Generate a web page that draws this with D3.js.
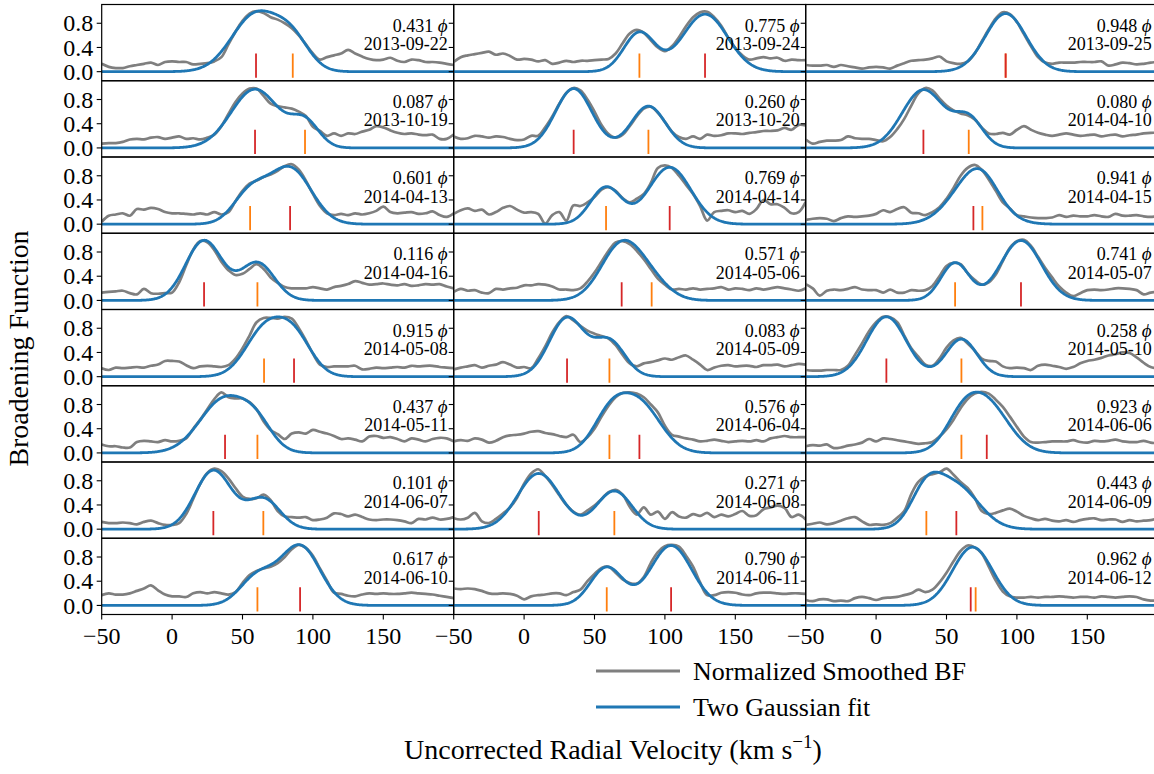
<!DOCTYPE html>
<html>
<head>
<meta charset="utf-8">
<script src="https://cdn.jsdelivr.net/npm/d3@7"></script>
<style>
  body { margin: 0; background: #fff; }
  svg text { font-family: "Liberation Serif", "Times New Roman", serif; fill: #000; }
</style>
</head>
<body>
<svg id="chart" width="1154" height="774"></svg>
<script>
// Velocity grid (km/s) on which the smoothed broadening functions are sampled
const velocity = [-50,-45,-40,-35,-30,-25,-20,-15,-10,-5,0,5,10,15,20,25,30,35,40,45,50,55,60,65,70,75,80,85,90,95,100,105,110,115,120,125,130,135,140,145,150,155,160,165,170,175,180,185,190,195,200];

// Orbital phase and observation date of each spectrum (row-major panel order)
const phases = ["0.431","0.775","0.948","0.087","0.260","0.080","0.601","0.769","0.941","0.116","0.571","0.741","0.915","0.083","0.258","0.437","0.576","0.923","0.101","0.271","0.443","0.617","0.790","0.962"];
const obsDates = ["2013-09-22","2013-09-24","2013-09-25","2013-10-19","2013-10-20","2014-04-10","2014-04-13","2014-04-14","2014-04-15","2014-04-16","2014-05-06","2014-05-07","2014-05-08","2014-05-09","2014-05-10","2014-05-11","2014-06-04","2014-06-06","2014-06-07","2014-06-08","2014-06-09","2014-06-10","2014-06-11","2014-06-12"];

// Normalized smoothed broadening functions, one row per spectrum
const bfSmoothed = [
  [0.13,0.08,0.06,0.06,0.09,0.11,0.13,0.15,0.11,0.16,0.17,0.16,0.16,0.12,0.13,0.14,0.17,0.24,0.45,0.66,0.84,0.96,1.0,0.97,0.9,0.86,0.8,0.72,0.6,0.45,0.3,0.2,0.24,0.27,0.3,0.36,0.3,0.25,0.21,0.19,0.2,0.23,0.18,0.16,0.2,0.19,0.16,0.16,0.15,0.13,0.11],
  [0.16,0.24,0.27,0.29,0.31,0.33,0.28,0.3,0.26,0.2,0.21,0.2,0.17,0.19,0.13,0.15,0.18,0.16,0.18,0.18,0.19,0.2,0.21,0.3,0.47,0.63,0.69,0.64,0.52,0.4,0.34,0.42,0.57,0.75,0.9,0.98,0.99,0.9,0.76,0.56,0.39,0.27,0.2,0.22,0.24,0.22,0.23,0.18,0.2,0.19,0.19],
  [0.11,0.1,0.1,0.11,0.08,0.11,0.09,0.07,0.05,0.07,0.08,0.07,0.05,0.1,0.14,0.18,0.19,0.2,0.22,0.25,0.17,0.14,0.13,0.17,0.3,0.5,0.7,0.88,0.98,0.95,0.82,0.62,0.42,0.24,0.15,0.13,0.15,0.15,0.15,0.16,0.16,0.16,0.17,0.1,0.12,0.15,0.14,0.12,0.13,0.15,0.16],
  [0.07,0.08,0.08,0.1,0.14,0.15,0.14,0.17,0.18,0.15,0.17,0.19,0.15,0.16,0.14,0.17,0.22,0.36,0.56,0.76,0.9,0.98,0.98,0.86,0.73,0.69,0.67,0.65,0.6,0.53,0.35,0.28,0.2,0.24,0.2,0.24,0.23,0.27,0.3,0.36,0.34,0.29,0.25,0.23,0.24,0.22,0.21,0.22,0.15,0.15,0.22],
  [0.19,0.15,0.16,0.2,0.19,0.17,0.19,0.18,0.15,0.13,0.14,0.2,0.2,0.34,0.52,0.73,0.91,0.99,0.95,0.8,0.6,0.38,0.23,0.17,0.22,0.36,0.52,0.65,0.68,0.58,0.43,0.27,0.18,0.15,0.19,0.15,0.22,0.2,0.21,0.24,0.24,0.23,0.25,0.26,0.28,0.28,0.29,0.33,0.3,0.38,0.37],
  [0.14,0.07,0.1,0.12,0.12,0.13,0.19,0.16,0.15,0.15,0.13,0.11,0.18,0.31,0.48,0.7,0.9,0.99,0.95,0.82,0.7,0.62,0.57,0.54,0.47,0.34,0.24,0.23,0.25,0.22,0.3,0.36,0.3,0.25,0.22,0.2,0.22,0.24,0.22,0.2,0.21,0.22,0.19,0.21,0.22,0.19,0.21,0.22,0.24,0.25,0.25],
  [0.04,0.14,0.16,0.18,0.14,0.25,0.24,0.27,0.25,0.2,0.18,0.18,0.17,0.16,0.18,0.16,0.2,0.16,0.2,0.38,0.55,0.67,0.72,0.78,0.82,0.88,0.96,0.99,0.9,0.72,0.5,0.3,0.18,0.15,0.17,0.15,0.18,0.16,0.18,0.22,0.29,0.2,0.18,0.19,0.2,0.17,0.18,0.21,0.15,0.12,0.18],
  [0.17,0.23,0.26,0.22,0.24,0.16,0.2,0.27,0.3,0.24,0.19,0.2,0.17,0.01,0.15,0.2,0.06,0.31,0.3,0.36,0.45,0.57,0.61,0.55,0.43,0.36,0.42,0.5,0.68,0.93,0.97,0.93,0.8,0.65,0.5,0.3,0.06,0.2,0.22,0.23,0.2,0.22,0.17,0.25,0.4,0.33,0.33,0.27,0.18,0.2,0.37],
  [0.07,0.09,0.1,0.09,0.05,0.1,0.13,0.12,0.13,0.14,0.17,0.23,0.2,0.25,0.28,0.19,0.18,0.15,0.2,0.28,0.42,0.6,0.8,0.93,0.98,0.9,0.74,0.55,0.36,0.26,0.15,0.13,0.11,0.1,0.1,0.11,0.15,0.12,0.14,0.13,0.13,0.15,0.13,0.12,0.17,0.14,0.14,0.15,0.13,0.12,0.13],
  [0.13,0.14,0.15,0.16,0.12,0.1,0.19,0.12,0.11,0.12,0.13,0.3,0.58,0.84,0.98,0.96,0.83,0.64,0.5,0.42,0.44,0.52,0.6,0.52,0.38,0.29,0.22,0.2,0.2,0.2,0.22,0.2,0.18,0.22,0.24,0.27,0.32,0.29,0.26,0.27,0.28,0.26,0.25,0.27,0.24,0.25,0.27,0.26,0.27,0.23,0.2],
  [0.14,0.19,0.16,0.17,0.13,0.12,0.19,0.18,0.2,0.21,0.25,0.25,0.27,0.26,0.23,0.18,0.18,0.17,0.2,0.31,0.46,0.64,0.82,0.96,0.98,0.93,0.82,0.68,0.52,0.36,0.26,0.18,0.19,0.18,0.2,0.18,0.19,0.2,0.22,0.18,0.2,0.19,0.17,0.2,0.18,0.2,0.22,0.2,0.18,0.16,0.2],
  [0.27,0.2,0.08,0.16,0.18,0.17,0.19,0.22,0.18,0.17,0.17,0.13,0.18,0.13,0.13,0.17,0.16,0.17,0.24,0.4,0.57,0.62,0.6,0.45,0.34,0.26,0.3,0.43,0.65,0.87,0.98,1.0,0.9,0.72,0.54,0.38,0.23,0.13,0.07,0.12,0.17,0.18,0.17,0.18,0.2,0.2,0.19,0.17,0.1,0.13,0.14],
  [0.14,0.11,0.15,0.14,0.15,0.16,0.15,0.18,0.2,0.26,0.26,0.25,0.19,0.14,0.17,0.18,0.17,0.16,0.19,0.3,0.47,0.68,0.9,0.97,0.97,0.96,0.99,0.96,0.8,0.6,0.38,0.2,0.16,0.17,0.17,0.17,0.18,0.12,0.13,0.15,0.14,0.15,0.16,0.15,0.18,0.17,0.18,0.18,0.16,0.15,0.14],
  [0.12,0.15,0.17,0.19,0.15,0.18,0.2,0.24,0.2,0.15,0.16,0.14,0.3,0.5,0.73,0.9,1.0,0.93,0.84,0.76,0.71,0.67,0.63,0.52,0.36,0.22,0.17,0.22,0.24,0.27,0.3,0.28,0.32,0.35,0.28,0.2,0.11,0.15,0.18,0.19,0.17,0.18,0.18,0.16,0.19,0.19,0.2,0.17,0.19,0.21,0.2],
  [0.11,0.1,0.1,0.11,0.11,0.11,0.18,0.36,0.55,0.75,0.9,0.99,0.98,0.9,0.68,0.47,0.33,0.2,0.18,0.3,0.48,0.6,0.64,0.55,0.43,0.3,0.26,0.25,0.17,0.14,0.15,0.14,0.11,0.18,0.2,0.18,0.16,0.13,0.16,0.22,0.26,0.28,0.31,0.35,0.37,0.4,0.39,0.32,0.23,0.16,0.14],
  [0.14,0.11,0.11,0.09,0.09,0.18,0.2,0.19,0.18,0.21,0.19,0.2,0.24,0.4,0.55,0.72,0.89,1.0,0.92,0.9,0.9,0.84,0.72,0.52,0.38,0.31,0.23,0.32,0.34,0.32,0.38,0.35,0.32,0.28,0.23,0.24,0.22,0.19,0.27,0.28,0.25,0.26,0.23,0.19,0.24,0.22,0.19,0.23,0.25,0.24,0.19],
  [0.19,0.21,0.2,0.24,0.22,0.17,0.2,0.26,0.29,0.3,0.32,0.35,0.36,0.33,0.31,0.28,0.26,0.3,0.18,0.26,0.4,0.6,0.78,0.92,0.99,1.0,0.98,0.92,0.8,0.67,0.45,0.3,0.27,0.24,0.22,0.19,0.2,0.22,0.2,0.18,0.19,0.2,0.19,0.21,0.19,0.24,0.26,0.28,0.26,0.26,0.26],
  [0.11,0.13,0.12,0.14,0.08,0.09,0.12,0.14,0.17,0.23,0.19,0.24,0.23,0.21,0.19,0.17,0.15,0.16,0.18,0.27,0.39,0.55,0.74,0.89,0.98,1.01,0.98,0.88,0.76,0.6,0.43,0.27,0.18,0.17,0.18,0.19,0.19,0.19,0.21,0.18,0.17,0.2,0.19,0.2,0.22,0.19,0.18,0.18,0.2,0.17,0.16],
  [0.12,0.1,0.1,0.11,0.1,0.08,0.12,0.14,0.1,0.07,0.07,0.1,0.25,0.5,0.75,0.93,1.0,0.96,0.84,0.68,0.54,0.5,0.51,0.57,0.48,0.3,0.21,0.2,0.19,0.2,0.15,0.16,0.19,0.26,0.25,0.21,0.24,0.2,0.16,0.15,0.16,0.16,0.15,0.13,0.1,0.17,0.16,0.19,0.16,0.17,0.2],
  [0.18,0.16,0.19,0.27,0.13,0.1,0.17,0.26,0.36,0.52,0.75,0.92,0.99,0.88,0.73,0.56,0.4,0.29,0.24,0.31,0.39,0.5,0.61,0.65,0.57,0.37,0.24,0.36,0.24,0.29,0.17,0.28,0.21,0.19,0.25,0.22,0.27,0.2,0.24,0.21,0.25,0.3,0.22,0.23,0.33,0.36,0.39,0.35,0.2,0.24,0.16],
  [0.07,0.09,0.11,0.08,0.1,0.14,0.18,0.2,0.13,0.07,0.08,0.07,0.1,0.19,0.3,0.58,0.78,0.87,0.91,0.94,1.0,0.9,0.78,0.68,0.52,0.3,0.25,0.27,0.31,0.34,0.29,0.22,0.18,0.15,0.17,0.14,0.13,0.15,0.12,0.15,0.17,0.18,0.15,0.16,0.16,0.12,0.15,0.13,0.14,0.15,0.18],
  [0.17,0.2,0.18,0.18,0.2,0.24,0.28,0.33,0.25,0.18,0.15,0.15,0.14,0.2,0.22,0.2,0.22,0.2,0.18,0.22,0.37,0.5,0.57,0.61,0.64,0.7,0.8,0.93,1.0,0.95,0.82,0.61,0.41,0.21,0.19,0.16,0.15,0.18,0.2,0.19,0.2,0.19,0.19,0.2,0.21,0.2,0.19,0.18,0.16,0.14,0.12],
  [0.28,0.27,0.28,0.27,0.24,0.2,0.19,0.2,0.19,0.16,0.1,0.15,0.17,0.18,0.2,0.2,0.17,0.22,0.26,0.4,0.52,0.62,0.64,0.54,0.43,0.37,0.36,0.47,0.7,0.88,0.98,1.0,0.97,0.82,0.64,0.38,0.17,0.17,0.21,0.22,0.21,0.18,0.17,0.2,0.21,0.21,0.2,0.19,0.2,0.2,0.19],
  [0.09,0.07,0.1,0.1,0.07,0.08,0.07,0.12,0.14,0.12,0.09,0.12,0.13,0.14,0.17,0.2,0.26,0.22,0.26,0.38,0.54,0.73,0.9,0.99,0.96,0.86,0.64,0.41,0.23,0.15,0.13,0.13,0.14,0.13,0.14,0.14,0.15,0.14,0.13,0.14,0.14,0.13,0.15,0.14,0.13,0.14,0.15,0.14,0.1,0.08,0.08]
];

// Two-Gaussian fit parameters: amplitude, centre (km/s) and sigma (km/s)
const primaryAmp      = [0.95,0.95,0.6,0.97,0.98,0.96,0.92,0.94,0.72,0.99,0.92,0.99,0.64,0.97,0.99,0.9,0.8,0.8,0.97,0.92,0.7,0.98,0.99,0.6];
const primaryCenter   = [59.6,128.5,92.0,58.9,35.2,33.6,83.8,103.4,69.1,22.7,69.3,102.9,86.6,30.5,7.3,37.6,81.9,78.6,29.3,10.4,57.0,90.9,104.4,67.2];
const primaryWidth    = [17,16,14.5,17,13,15,15,15,16.5,13,14.5,14.5,12.5,12.5,14,17.5,15,15.5,13,15,16,14,14.5,14];
const secondaryAmp    = [0.45,0.645,0.36,0.41,0.69,0.47,0.5,0.61,0.22,0.62,0.25,0.62,0.74,0.58,0.62,0.32,0.55,0.43,0.5,0.63,0.58,0.47,0.63,0.37];
const secondaryCenter = [85.7,81.9,92.0,94.4,88.3,65.8,55.4,58.2,75.5,60.6,90.6,56.1,65.3,60.6,60.6,60.6,60.6,60.6,64.8,64.1,35.7,60.6,58.7,70.7];
const secondaryWidth  = [12,11,14.5,10,12,10,12,11,11,12,13,10,13.5,11,11,11,12,12,11.7,12.5,11,12.3,11.5,14];

const xTicks = [-50, 0, 50, 100, 150];
const yTicks = [0.0, 0.4, 0.8];

// Layout
const nRows = 8, nCols = 3;
const gridLeft = 101.7, gridTop = 4.5, panelW = 352, panelH = 76.25;
const colors = { bf: "#7f7f7f", fit: "#1f77b4", primary: "#d62728", secondary: "#ff7f0e" };

const svg = d3.select("#chart");
const x = d3.scaleLinear().domain([-50, 200]).range([0, panelW]);
const y = d3.scaleLinear().domain([-0.15, 1.11]).range([panelH, 0]);

const gauss = (v, a, mu, s) => a * Math.exp(-((v - mu) ** 2) / (2 * s * s));
const fitGrid = d3.range(-50, 200.25, 0.5);

const bfLine = d3.line().curve(d3.curveCatmullRom.alpha(0.5)).x(d => x(d[0])).y(d => y(d[1]));
const fitLine = d3.line().x(d => x(d[0])).y(d => y(d[1]));

phases.forEach((phase, i) => {
  const row = Math.floor(i / nCols), col = i % nCols;
  const g = svg.append("g")
    .attr("transform", `translate(${gridLeft + col * panelW},${gridTop + row * panelH})`);

  const clipId = `clip-${i}`;
  g.append("clipPath").attr("id", clipId)
    .append("rect").attr("width", panelW).attr("height", panelH);
  const plot = g.append("g").attr("clip-path", `url(#${clipId})`);

  // smoothed broadening function
  plot.append("path")
    .datum(velocity.map((v, k) => [v, bfSmoothed[i][k]]))
    .attr("d", bfLine)
    .attr("fill", "none")
    .attr("stroke", colors.bf)
    .attr("stroke-width", 2.7)
    .attr("stroke-linejoin", "round");

  // two-Gaussian model
  const fit = fitGrid.map(v => [v,
    gauss(v, primaryAmp[i], primaryCenter[i], primaryWidth[i]) +
    gauss(v, secondaryAmp[i], secondaryCenter[i], secondaryWidth[i])]);
  plot.append("path")
    .datum(fit)
    .attr("d", fitLine)
    .attr("fill", "none")
    .attr("stroke", colors.fit)
    .attr("stroke-width", 2.8)
    .attr("stroke-linejoin", "round");

  // component centre markers
  [[secondaryCenter[i], colors.secondary], [primaryCenter[i], colors.primary]].forEach(([c, col2]) => {
    plot.append("line")
      .attr("x1", x(c)).attr("x2", x(c))
      .attr("y1", y(-0.1)).attr("y2", y(0.3))
      .attr("stroke", col2).attr("stroke-width", 1.8);
  });

  // annotations
  const ann = g.append("g").attr("text-anchor", "end").attr("font-size", 18);
  const t1 = ann.append("text").attr("x", panelW - 6).attr("y", 27);
  t1.append("tspan").text(phase + " ");
  t1.append("tspan").attr("font-style", "italic").attr("font-size", 19).text("\u03D5");
  ann.append("text").attr("x", panelW - 6).attr("y", 45.5).text(obsDates[i]);

  // y ticks
  yTicks.forEach(t => {
    g.append("line").attr("x1", -5).attr("x2", 0)
      .attr("y1", y(t)).attr("y2", y(t))
      .attr("stroke", "#000").attr("stroke-width", 1.1);
    if (col === 0) {
      g.append("text").attr("x", -8.5).attr("y", y(t)).attr("dy", "0.34em")
        .attr("text-anchor", "end").attr("font-size", 24).text(t.toFixed(1));
    }
  });

  // x ticks on the bottom row
  if (row === nRows - 1) {
    xTicks.forEach(t => {
      g.append("line").attr("x1", x(t)).attr("x2", x(t))
        .attr("y1", panelH).attr("y2", panelH + 5)
        .attr("stroke", "#000").attr("stroke-width", 1.1);
      g.append("text").attr("x", x(t)).attr("y", panelH + 29)
        .attr("text-anchor", "middle").attr("font-size", 24)
        .text(t < 0 ? "\u2212" + Math.abs(t) : String(t));
    });
  }

  // frame
  g.append("rect").attr("width", panelW).attr("height", panelH)
    .attr("fill", "none").attr("stroke", "#000").attr("stroke-width", 1.2);
});

// axis labels
svg.append("text")
  .attr("transform", "translate(28,348.5) rotate(-90)")
  .attr("text-anchor", "middle").attr("font-size", 28)
  .attr("textLength", 236).attr("lengthAdjust", "spacingAndGlyphs")
  .text("Broadening Function");

const xl = svg.append("text").attr("x", 613).attr("y", 759)
  .attr("text-anchor", "middle").attr("font-size", 28);
xl.append("tspan").text("Uncorrected Radial Velocity (km s");
xl.append("tspan").attr("dy", -11).attr("font-size", 19).text("\u22121");
xl.append("tspan").attr("dy", 11).text(")");

// legend
const legend = svg.append("g").attr("font-size", 26);
[["Normalized Smoothed BF", colors.bf, 671], ["Two Gaussian fit", colors.fit, 707]].forEach(([label, c, ly]) => {
  legend.append("line").attr("x1", 596).attr("x2", 680).attr("y1", ly).attr("y2", ly)
    .attr("stroke", c).attr("stroke-width", 2.8);
  legend.append("text").attr("x", 693).attr("y", ly).attr("dy", "0.35em").text(label);
});
</script>
</body>
</html>
